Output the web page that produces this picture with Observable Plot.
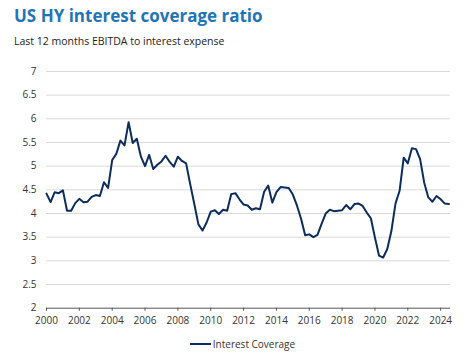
<!DOCTYPE html>
<html><head><meta charset="utf-8">
<script src="https://cdn.jsdelivr.net/npm/d3@7"></script>
<script src="https://cdn.jsdelivr.net/npm/@observablehq/plot@0.6"></script>
<style>
body{margin:0;background:#fff;font-family:"Open Sans",sans-serif;}
#wrap{position:relative;width:475px;height:360px;overflow:hidden;background:#fff}
#title{position:absolute;left:14px;top:4px;font-size:17px;font-weight:700;color:#1f74b7;white-space:nowrap;line-height:24px}
#subtitle{position:absolute;left:14px;top:34px;font-size:10.5px;color:#222;white-space:nowrap;line-height:14px}
#chart{position:absolute;left:0;top:56px}
#legend{position:absolute;left:0;width:485px;top:336px;text-align:center;font-size:10px;color:#333;line-height:16px;white-space:nowrap}
#legend .sw{display:inline-block;width:21px;height:2px;background:#0c2c5c;vertical-align:middle;margin-right:2px;position:relative;top:-1px}
</style></head>
<body><div id="wrap">
<div id="title">US HY interest coverage ratio</div>
<div id="subtitle">Last 12 months EBITDA to interest expense</div>
<div id="chart"></div>
<div id="legend"><span class="sw"></span>Interest Coverage</div>
</div>
<script>
const seriesName = "Interest Coverage";
const startYear = 2000; // quarterly observations from 2000 Q1
const coverage = [
  4.42, 4.24, 4.45, 4.43,  // 2000
  4.49, 4.06, 4.06, 4.22,  // 2001
  4.31, 4.24, 4.25, 4.35,  // 2002
  4.39, 4.37, 4.66, 4.54,  // 2003
  5.13, 5.26, 5.54, 5.44,  // 2004
  5.93, 5.49, 5.58, 5.20,  // 2005
  5.00, 5.24, 4.94, 5.03,  // 2006
  5.10, 5.22, 5.09, 4.99,  // 2007
  5.20, 5.11, 5.06, 4.62,  // 2008
  4.20, 3.77, 3.64, 3.81,  // 2009
  4.04, 4.07, 3.99, 4.08,  // 2010
  4.06, 4.41, 4.43, 4.30,  // 2011
  4.19, 4.17, 4.08, 4.11,  // 2012
  4.09, 4.46, 4.59, 4.23,  // 2013
  4.45, 4.56, 4.55, 4.54,  // 2014
  4.40, 4.17, 3.89, 3.54,  // 2015
  3.56, 3.50, 3.55, 3.78,  // 2016
  4.00, 4.08, 4.05, 4.06,  // 2017
  4.07, 4.18, 4.09, 4.20,  // 2018
  4.21, 4.16, 4.02, 3.90,  // 2019
  3.49, 3.11, 3.07, 3.25,  // 2020
  3.63, 4.21, 4.48, 5.18,  // 2021
  5.06, 5.38, 5.36, 5.15,  // 2022
  4.65, 4.34, 4.25, 4.37,  // 2023
  4.30, 4.21, 4.20         // 2024
];
const xTicks = [2000, 2002, 2004, 2006, 2008, 2010, 2012, 2014, 2016, 2018, 2020, 2022, 2024];
const yTicks = [2, 2.5, 3, 3.5, 4, 4.5, 5, 5.5, 6, 6.5, 7];
const gridLevels = [2.5, 3, 3.5, 4, 4.5, 5, 5.5, 6, 6.5, 7];

const data = coverage.map((v, i) => ({t: startYear + i / 4, v}));

const chart = Plot.plot({
  width: 475,
  height: 280,
  marginLeft: 46,
  marginRight: 25,
  marginTop: 15,
  marginBottom: 28.3,
  style: {fontFamily: "'Open Sans', sans-serif", fontSize: "10px", color: "#333", background: "transparent"},
  x: {domain: [2000, 2024.6]},
  y: {domain: [2, 7]},
  marks: [
    Plot.ruleY(gridLevels, {stroke: "#d9d9d9", strokeWidth: 1}),
    Plot.axisY({ticks: yTicks, tickSize: 0, tickPadding: 10, tickFormat: d => String(d), label: null, fill: "#333"}),
    Plot.axisX({ticks: xTicks, tickSize: 3, tickPadding: 6, tickFormat: d => String(d), label: null, stroke: "#555", fill: "#333"}),
    Plot.ruleY([2], {stroke: "#555", strokeWidth: 1}),
    Plot.line(data, {x: "t", y: "v", stroke: "#0c2c5c", strokeWidth: 2, curve: "linear"})
  ]
});
document.getElementById("chart").appendChild(chart);
</script>
</body></html>
